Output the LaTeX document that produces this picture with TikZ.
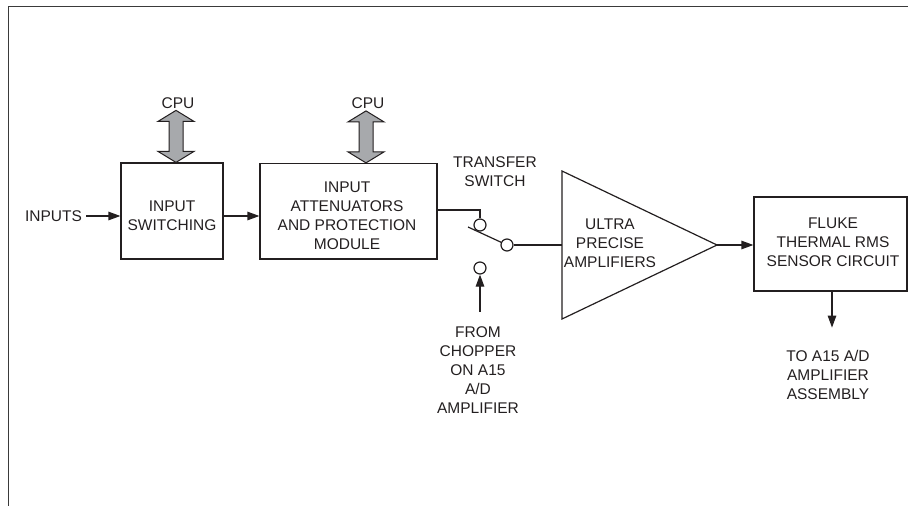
\documentclass[tikz,border=0pt]{standalone}
\usepackage{fontspec}
\setmainfont{Liberation Sans}
\usetikzlibrary{arrows.meta,calc}
\definecolor{ink}{HTML}{231F20}
\definecolor{cpugray}{HTML}{A7A9AC}
\definecolor{framec}{HTML}{3A3A3A}
\begin{document}
\begin{tikzpicture}[x=1pt,y=-1pt,
  every node/.style={font=\fontsize{15.5}{19}\selectfont, text=ink, inner sep=0pt},
  lbl/.style={align=center},
  box/.style={draw=ink, line width=1.2pt, rectangle, inner sep=0pt},
  wire/.style={draw=ink, line width=1.2pt},
  arr/.style={wire, -{Triangle[length=12pt,width=8.5pt]}},
  term/.style={circle, draw=ink, line width=1.2pt, minimum size=12pt, fill=white},
  cpuarrow/.style={draw=ink, line width=1pt, fill=cpugray, line join=miter},
  framel/.style={draw=framec, line width=1.8pt}]
\useasboundingbox (0,0) rectangle (908,506);
% frame
\draw[framel] (908,6.5) -- (8.5,6.5) -- (8.5,506);

% boxes
\node[box, minimum width=102pt, minimum height=96pt] (sw) at (172,211) {};
\node[lbl] (swt) at (172,215.5) {INPUT\\SWITCHING};
\node[box, minimum width=177pt, minimum height=95.5pt] (att) at (348.5,211.25) {};
\node[lbl] (attt) at (347,215.5) {INPUT\\ATTENUATORS\\AND PROTECTION\\MODULE};
\node[box, minimum width=153pt, minimum height=94pt] (fl) at (830.5,244) {};
\node[lbl] (flt) at (833,242.5) {FLUKE\\THERMAL RMS\\SENSOR CIRCUIT};

% labels
\node (inp) at (53.5,216) {INPUTS};
\node (cpu1) at (178,103) {CPU};
\node (cpu2) at (368,103) {CPU};
\node[lbl] (ts) at (495,172) {TRANSFER\\SWITCH};
\node[lbl] (chop) at (478,370.5) {FROM\\CHOPPER\\ON A15\\A/D\\AMPLIFIER};
\node[lbl] (out) at (828,374.5) {TO A15 A/D\\AMPLIFIER\\ASSEMBLY};

% amplifier triangle
\coordinate (ta) at (562,171);
\coordinate (tb) at (562,319);
\coordinate (tc) at (717,245);
\draw[wire, line join=miter] (ta) -- (tc) -- (tb) -- cycle;
\node[lbl] (ampt) at (610,243) {ULTRA\\PRECISE\\AMPLIFIERS};

% CPU double arrows
\draw[cpuarrow] (sw.north) ++(4,0) -- ++(18,-11) -- ++(-11,0) -- ++(0,-30) -- ++(11,0)
  -- ++(-18,-11) -- ++(-18,11) -- ++(11,0) -- ++(0,30) -- ++(-11,0) -- cycle;
\draw[cpuarrow] (att.north) ++(17.5,0) -- ++(18,-11) -- ++(-11,0) -- ++(0,-30) -- ++(11,0)
  -- ++(-18,-11) -- ++(-18,11) -- ++(11,0) -- ++(0,30) -- ++(-11,0) -- cycle;

% signal path
\draw[arr] ($(inp.east)+(4,0)$) -- (sw.west |- inp);
\draw[arr] (sw.east |- inp) -- (att.west |- inp);

% transfer switch
\node[term] (t1) at (480,225) {};
\node[term] (t2) at (507,245) {};
\node[term] (t3) at (480,268) {};
\coordinate (wj) at (480,210);
\coordinate (bl) at (468,227);
\draw[wire] (att.east |- wj) -- (wj) -- (t1);
\draw[wire] (bl) -- (t2);
\draw[wire] (t2) -- (ta |- t2);
\draw[arr] ($(t3 |- chop.north)+(0,-15)$) -- (t3);

% output
\draw[arr] (tc) -- (fl.west |- tc);
\draw[arr] (fl.south -| 832,0) -- ($(out.north -| 832,0)+(0,-22)$);
\end{tikzpicture}
\end{document}
